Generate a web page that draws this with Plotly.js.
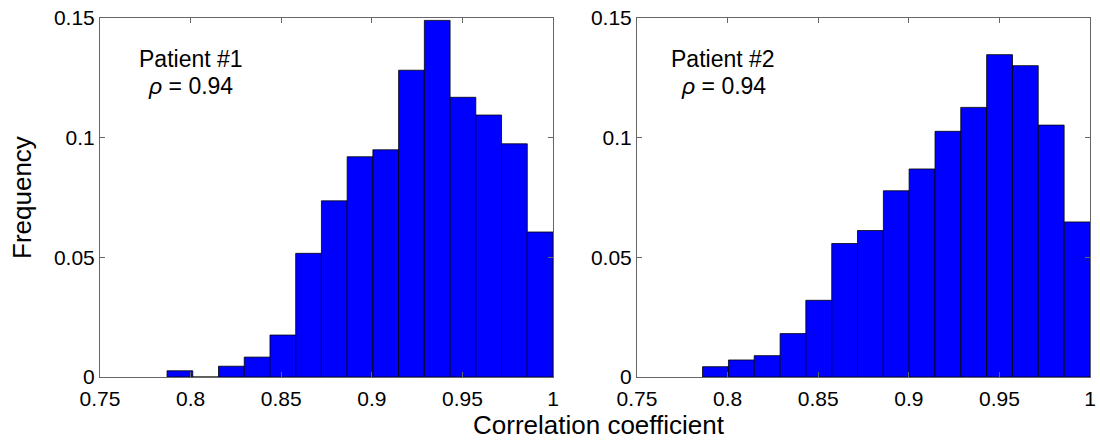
<!DOCTYPE html>
<html>
<head>
<meta charset="utf-8">
<script src="https://cdn.plot.ly/plotly-3.0.1.min.js"></script>
<style>html,body{margin:0;padding:0;background:#fff;}#chart{width:1100px;height:441px;}</style>
</head>
<body>
<div id="chart"></div>
<script>
// Patient #1 histogram (bin centres and relative frequencies)
const binCenters1 = [0.7941, 0.8083, 0.8225, 0.8367, 0.8509, 0.8651, 0.8793, 0.8935, 0.9077, 0.9219, 0.9361, 0.9503, 0.9645, 0.9787, 0.9929];
const freq1 = [0.0026, 0.0, 0.0045, 0.0083, 0.0175, 0.0516, 0.0735, 0.0919, 0.0948, 0.128, 0.1488, 0.1167, 0.1093, 0.0973, 0.0605];
const binWidth1 = 0.0142;

// Patient #2 histogram
const binCenters2 = [0.7933, 0.8076, 0.8218, 0.8361, 0.8503, 0.8646, 0.8788, 0.8931, 0.9073, 0.9216, 0.9358, 0.9501, 0.9643, 0.9786, 0.9929];
const freq2 = [0.0043, 0.0071, 0.0089, 0.0181, 0.032, 0.0557, 0.0611, 0.0777, 0.0868, 0.1025, 0.1125, 0.1345, 0.1299, 0.1051, 0.0647];
const binWidth2 = 0.01425;

const xTicks = [0.75, 0.8, 0.85, 0.9, 0.95, 1];
const xTickText = ['0.75', '0.8', '0.85', '0.9', '0.95', '1'];
const yTicks = [0, 0.05, 0.1, 0.15];
const yTickText = ['0', '0.05', '0.1', '0.15'];

const panelLabels = ['Patient #1', 'Patient #2'];
const rhoValues = ['0.94', '0.94'];
const xTitle = 'Correlation coefficient';
const yTitle = 'Frequency';

const FONT = 'Liberation Sans, Arial, Helvetica, sans-serif';

const barStyle = {color: '#0000ff', line: {color: '#000000', width: 0.8}};

const traces = [
  {type: 'bar', x: binCenters1, y: freq1, width: binCenters1.map(() => binWidth1),
   marker: barStyle, xaxis: 'x', yaxis: 'y', hoverinfo: 'x+y'},
  {type: 'bar', x: binCenters2, y: freq2, width: binCenters2.map(() => binWidth2),
   marker: barStyle, xaxis: 'x2', yaxis: 'y2', hoverinfo: 'x+y'}
];

function xAxis(domain, anchor) {
  return {
    domain: domain, anchor: anchor, range: [0.75, 1],
    tickmode: 'array', tickvals: xTicks, ticktext: xTickText,
    ticks: 'inside', ticklen: 5, tickwidth: 1, tickcolor: '#666',
    showline: true, linecolor: '#666', linewidth: 1, mirror: 'ticks',
    showgrid: false, zeroline: false, ticklabelstandoff: 3,
    tickfont: {family: FONT, size: 21, color: '#000'}
  };
}
function yAxis(domain, anchor) {
  return {
    domain: domain, anchor: anchor, range: [0, 0.15],
    tickmode: 'array', tickvals: yTicks, ticktext: yTickText,
    ticks: 'inside', ticklen: 5, tickwidth: 1, tickcolor: '#666',
    showline: true, linecolor: '#666', linewidth: 1, mirror: 'ticks',
    showgrid: false, zeroline: false,
    tickfont: {family: FONT, size: 21, color: '#000'}
  };
}

const yDom = [1 - 377 / 441, 1 - 17.5 / 441];

const annFont = {family: FONT, size: 23, color: '#000'};
const layout = {
  width: 1100, height: 441,
  margin: {l: 0, r: 0, t: 0, b: 0},
  paper_bgcolor: '#fff', plot_bgcolor: '#fff',
  showlegend: false,
  bargap: 0,
  xaxis: xAxis([100 / 1100, 553 / 1100], 'y'),
  yaxis: yAxis(yDom, 'x'),
  xaxis2: xAxis([637 / 1100, 1090 / 1100], 'y2'),
  yaxis2: yAxis(yDom, 'x2'),
  annotations: [
    {xref: 'x', yref: 'y', x: 0.8001, y: 0.1327, text: panelLabels[0], showarrow: false, font: annFont,
     xanchor: 'center', yanchor: 'middle'},
    {xref: 'x', yref: 'y', x: 0.8001, y: 0.1213, text: '<i>ρ</i> = ' + rhoValues[0], showarrow: false, font: annFont,
     xanchor: 'center', yanchor: 'middle'},
    {xref: 'x2', yref: 'y2', x: 0.7976, y: 0.1327, text: panelLabels[1], showarrow: false, font: annFont,
     xanchor: 'center', yanchor: 'middle'},
    {xref: 'x2', yref: 'y2', x: 0.7976, y: 0.1213, text: '<i>ρ</i> = ' + rhoValues[1], showarrow: false, font: annFont,
     xanchor: 'center', yanchor: 'middle'},
    {xref: 'paper', yref: 'paper', x: 599 / 1100, y: 1 - 425 / 441, text: xTitle, showarrow: false,
     xanchor: 'center', yanchor: 'middle', font: {family: FONT, size: 26, color: '#000'}},
    {xref: 'paper', yref: 'paper', x: 22 / 1100, y: 1 - 198 / 441, text: yTitle, showarrow: false, textangle: -90,
     xanchor: 'center', yanchor: 'middle', font: {family: FONT, size: 26, color: '#000'}}
  ]
};

Plotly.newPlot('chart', traces, layout, {staticPlot: true, displayModeBar: false});
</script>
</body>
</html>
